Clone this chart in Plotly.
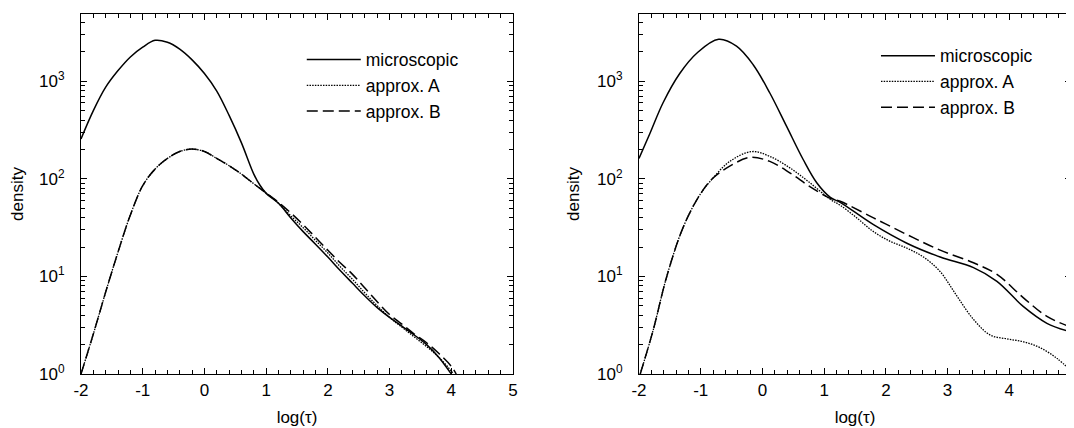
import plotly.graph_objects as go

# ---------------- data ----------------
# left panel
L_micro_x = [-2.0, -1.8, -1.6, -1.4, -1.2, -1.0, -0.8, -0.6, -0.4, -0.2, 0.0, 0.2, 0.4, 0.6,
             0.8, 0.9, 1.0, 1.2, 1.4, 1.6, 1.8, 2.0, 2.2, 2.4, 2.6, 2.8, 3.0, 3.2, 3.4, 3.6,
             3.8, 4.0]
L_micro_y = [257, 501, 871, 1288, 1778, 2239, 2630, 2512, 2138, 1660, 1202, 794, 447, 234,
             112, 86, 71.0, 56.2, 39.8, 28.8, 21.4, 15.8, 11.5, 8.51, 6.31, 4.79, 3.80, 3.09,
             2.51, 2.0, 1.48, 1.0]

L_A_x = [-2.0, -1.8, -1.6, -1.4, -1.2, -1.0, -0.8, -0.6, -0.4, -0.2, 0.0, 0.2, 0.4, 0.6,
         0.8, 1.0, 1.2, 1.4, 1.6, 1.8, 2.0, 2.2, 2.4, 2.6, 2.8, 3.0, 3.2, 3.4, 3.6, 3.8,
         4.0, 4.03]
L_A_y = [1.0, 2.57, 6.92, 17.8, 42.7, 85.1, 126, 162, 191, 202, 191, 162, 136.5, 112,
         89.1, 71.6, 56.2, 41.7, 31.6, 23.4, 17.4, 12.6, 9.33, 6.76, 5.01, 3.80, 3.02,
         2.40, 1.91, 1.48, 1.07, 1.0]

L_B_x = [-2.0, -1.8, -1.6, -1.4, -1.2, -1.0, -0.8, -0.6, -0.4, -0.2, 0.0, 0.2, 0.4, 0.6,
         0.8, 1.0, 1.2, 1.4, 1.6, 1.8, 2.0, 2.2, 2.4, 2.6, 2.8, 3.0, 3.2, 3.4, 3.6, 3.8,
         4.0, 4.08]
L_B_y = [1.0, 2.57, 6.92, 17.8, 42.7, 85.1, 126, 162, 191, 202, 191, 162, 136.5, 112,
         89.1, 71.6, 57.5, 44.7, 33.9, 25.1, 18.6, 13.8, 10.5, 7.59, 5.50, 4.07, 3.24,
         2.57, 2.09, 1.62, 1.20, 1.0]

# right panel
R_micro_x = [-2.0, -1.82, -1.61, -1.34, -1.06, -0.71, -0.42, -0.15, 0.12, 0.39, 0.66, 0.88,
             1.10, 1.26, 1.80, 2.34, 2.88, 3.42, 3.80, 4.23, 4.61, 5.0]
R_micro_y = [162, 295, 603, 1202, 1950, 2692, 2291, 1479, 759, 347, 158, 91.2,
             64.6, 57.5, 33.9, 21.9, 15.8, 12.3, 8.9, 4.9, 3.31, 2.69]

R_A_x = [-1.98, -1.77, -1.55, -1.28, -1.01, -0.80, -0.53, -0.17, 0.12, 0.45, 0.77, 1.10, 1.26,
         1.53, 1.80, 2.07, 2.34, 2.61, 2.88, 3.15, 3.42, 3.69, 3.96, 4.23, 4.50, 4.77, 5.0]
R_A_y = [1.0, 2.82, 10.0, 32.4, 69.2, 102, 151, 190.5, 170, 129, 91.2, 61.7, 53.7,
         39.8, 28.8, 22.9, 19.5, 15.8, 11.2, 6.31, 3.63, 2.51, 2.29, 2.14, 1.86, 1.45, 1.08]

R_B_x = [-1.98, -1.77, -1.55, -1.28, -1.01, -0.80, -0.53, -0.20, 0.12, 0.45, 0.77, 1.10, 1.26,
         1.80, 2.34, 2.88, 3.42, 3.80, 4.23, 4.61, 5.0]
R_B_y = [1.0, 2.82, 10.0, 32.4, 69.2, 102, 134.9, 166, 151, 114.8, 83.2, 63.1, 58.9,
         39.8, 26.9, 18.6, 13.8, 10.5, 6.03, 3.89, 3.02]

series_names = ["microscopic", "approx. A", "approx. B"]
x_tickvals = [-2, -1, 0, 1, 2, 3, 4, 5]
x_ticktext = ["-2", "-1", "0", "1", "2", "3", "4", "5"]
y_tickvals = [1, 10, 100, 1000]
y_ticktext = ["10<sup>0</sup>", "10<sup>1</sup>", "10<sup>2</sup>", "10<sup>3</sup>"]

# ---------------- figure ----------------
FONT = "Liberation Sans, Arial, Helvetica, sans-serif"
styles = [dict(color="black", width=1.5, dash="solid"),
          dict(color="black", width=1.3, dash="1.5px,1.2px"),
          dict(color="black", width=1.5, dash="11px,5px")]

fig = go.Figure()
panels = [
    ("x", "y", "legend", [(L_micro_x, L_micro_y), (L_A_x, L_A_y), (L_B_x, L_B_y)]),
    ("x2", "y2", "legend2", [(R_micro_x, R_micro_y), (R_A_x, R_A_y), (R_B_x, R_B_y)]),
]
for xa, ya, lg, data in panels:
    for name, (xs, ys), st in zip(series_names, data, styles):
        fig.add_trace(go.Scatter(x=xs, y=ys, mode="lines", name=name,
                                 line=dict(shape="spline", smoothing=1.0, **st),
                                 xaxis=xa, yaxis=ya, legend=lg, showlegend=True,
                                 hoverinfo="skip"))

def xax(domain, anchor):
    return dict(domain=domain, anchor=anchor, range=[-2, 5],
                tickvals=x_tickvals, ticktext=x_ticktext,
                ticks="inside", ticklen=6, tickcolor="black", showgrid=False, zeroline=False,
                showline=True, linecolor="black", linewidth=1, mirror="ticks",
                minor=dict(ticks="inside", ticklen=4, dtick=0.2, tickcolor="black", showgrid=False),
                ticklabelstandoff=1,
                title=dict(text="log(\u03c4)", standoff=11, font=dict(size=17)),
                tickfont=dict(size=17))

def yax(anchor):
    return dict(domain=[0, 1], anchor=anchor, type="log", range=[0, 3.69],
                tickvals=y_tickvals, ticktext=y_ticktext,
                ticks="inside", ticklen=6, tickcolor="black", showgrid=False, zeroline=False,
                showline=True, linecolor="black", linewidth=1, mirror="ticks",
                minor=dict(ticks="inside", ticklen=4, dtick="D1", tickcolor="black", showgrid=False),
                ticklabelstandoff=12,
                title=dict(text="density", standoff=13, font=dict(size=17)),
                tickfont=dict(size=17))

legend_common = dict(font=dict(size=17.5, family=FONT, color="black"), bgcolor="rgba(0,0,0,0)",
                     borderwidth=0, itemwidth=54, xanchor="left", yanchor="top",
                     tracegroupgap=0, itemclick=False)

# the page body adds an 8px offset, so the figure is 8px smaller and margins shifted
fig.update_layout(
    width=1066, height=420,
    margin=dict(l=73, r=3, t=6, b=54, autoexpand=False),
    paper_bgcolor="white", plot_bgcolor="white",
    font=dict(family=FONT, size=17, color="black"),
    xaxis=xax([0, 432 / 990], "y"),
    yaxis=yax("x"),
    xaxis2=xax([558 / 990, 1], "y2"),
    yaxis2=yax("x2"),
    legend=dict(x=0.223, y=0.923, **legend_common),
    legend2=dict(x=0.803, y=0.934, **legend_common),
)

fig.write_html("out.html")
